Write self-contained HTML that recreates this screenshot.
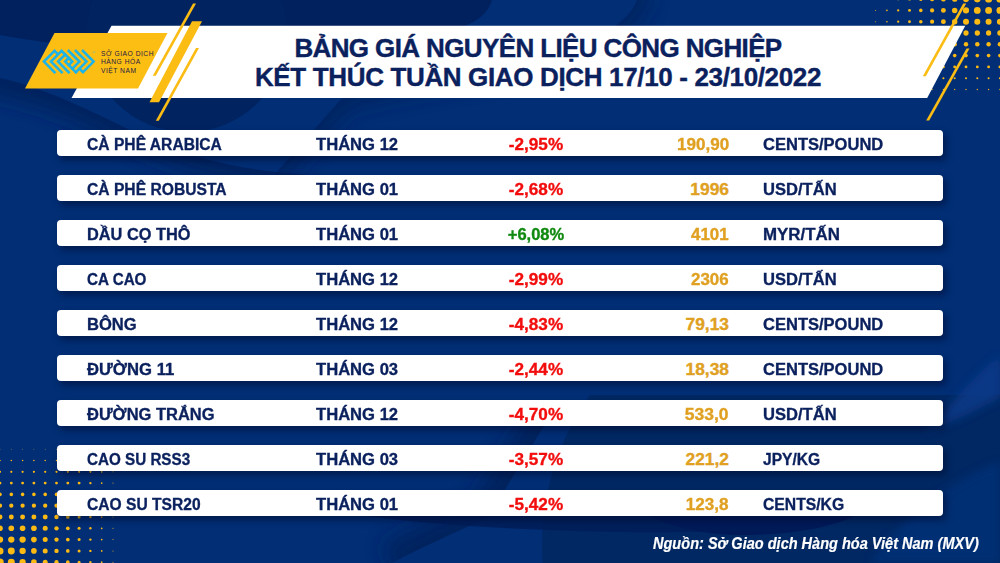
<!DOCTYPE html>
<html><head><meta charset="utf-8">
<style>
html,body{margin:0;padding:0;}
body{width:1000px;height:563px;overflow:hidden;position:relative;background:#012e75;font-family:"Liberation Sans",sans-serif;}
svg.bg{position:absolute;left:0;top:0;}
.row{position:absolute;left:57px;width:886px;height:26px;background:#fff;border-radius:4px;box-shadow:3px 4px 7px rgba(0,8,40,0.5);}
.row span{position:absolute;top:5px;font-weight:bold;font-size:17.4px;line-height:19px;white-space:nowrap;color:#0b215e;-webkit-text-stroke:0.35px currentColor;}
.c1{left:30px;transform-origin:0 50%;}
.c2{left:259px;transform-origin:0 50%;}
.c3{left:379px;width:200px;text-align:center;transform-origin:50% 50%;}
.c4{right:214px;text-align:right;color:#e0a021 !important;transform-origin:100% 50%;}
.c5{left:706px;transform-origin:0 50%;}
.r{color:#f20d0d !important;}
.g{color:#108a10 !important;}
.title{position:absolute;left:238px;width:600px;text-align:center;font-weight:bold;font-size:26px;line-height:30px;color:#0b215e;white-space:nowrap;-webkit-text-stroke:0.4px currentColor;}
.foot{position:absolute;left:653px;top:534.5px;font-style:italic;font-weight:bold;font-size:15.8px;line-height:17px;color:#fff;white-space:nowrap;transform:scaleX(0.92);transform-origin:0 50%;-webkit-text-stroke:0.2px #fff;}
.logo-t{position:absolute;left:101px;font-family:"Liberation Sans",sans-serif;font-size:6.7px;line-height:8px;letter-spacing:0.5px;color:#1c1844;white-space:nowrap;}
</style></head><body>
<svg class="bg" width="1000" height="563" viewBox="0 0 1000 563">
<defs>
<filter id="bl" x="-20%" y="-20%" width="140%" height="140%"><feGaussianBlur stdDeviation="10"/></filter><filter id="bl2" x="-20%" y="-20%" width="140%" height="140%"><feGaussianBlur stdDeviation="4"/></filter>
</defs>
<rect width="1000" height="563" fill="#012e75"/>
<clipPath id="belowB"><path d="M0,78 C40,86 90,110 150,140 C220,170 300,180 420,176 L1000,176 V563 H0 Z"/></clipPath>
<clipPath id="rightC"><path d="M637,0 C630,20 600,45 520,62 C440,78 370,88 342,98 L274,175 L252,200 L1000,200 V0 Z"/></clipPath>
<!-- top-left dark -->
<path d="M0,0 H492 C485,20 470,40 300,50 C200,55 80,50 0,35 Z" fill="#00215e"/>
<!-- wave B shadow -->
<g clip-path="url(#belowB)"><path d="M-20,78 C40,86 90,110 150,140 C220,170 300,180 420,176" fill="none" stroke="#00205c" stroke-width="26" filter="url(#bl)"/></g>
<!-- dark circle below title -->
<circle cx="187" cy="32" r="100" fill="#01235f"/>
<!-- wave C shadow (top right edge) -->
<g clip-path="url(#rightC)"><path d="M637,-20 L637,0 C630,20 600,45 520,62 C440,78 370,88 342,98 L274,175 L252,200" fill="none" stroke="#00205c" stroke-width="24" filter="url(#bl)" opacity="0.8"/></g>
<!-- bottom shapes -->
<clipPath id="lowc"><rect x="0" y="395" width="1000" height="200"/></clipPath>
<clipPath id="leftW"><path d="M0,400 H560 L488,517 C450,535 420,548 392,563 H0 Z"/></clipPath>
<g clip-path="url(#leftW)"><path d="M560,400 L488,517 C450,535 420,548 392,563" fill="none" stroke="#00205c" stroke-width="40" filter="url(#bl)" opacity="0.9"/></g>
<g clip-path="url(#lowc)"><circle cx="800" cy="545" r="258" fill="#01275f" opacity="0.8"/></g>
<path d="M300,505 C380,522 500,530 620,532 C740,534 830,525 875,505 Z" fill="#001d58" opacity="0.85"/>
<path d="M630,505 C660,525 700,535 740,535 C800,535 850,525 870,505 Z" fill="#001a58"/>
<!-- right edge waves -->
<path d="M1000,355 C975,375 955,400 925,432 C960,420 985,405 1000,398 Z" fill="#0a3a8a" opacity="0.8" filter="url(#bl2)"/>
<path d="M870,563 C900,520 950,480 1000,462 V563 Z" fill="#03307a" opacity="0.7" filter="url(#bl2)"/>
<g fill="#fbb913"><circle cx="999.9" cy="-0.9" r="3.50"/><circle cx="988.6" cy="-0.9" r="3.50"/><circle cx="977.3" cy="-0.9" r="3.38"/><circle cx="966.0" cy="-0.9" r="3.06"/><circle cx="954.7" cy="-0.9" r="2.74"/><circle cx="943.4" cy="-0.9" r="2.42"/><circle cx="932.1" cy="-0.9" r="2.10"/><circle cx="920.8" cy="-0.9" r="1.78"/><circle cx="909.5" cy="-0.9" r="1.46"/><circle cx="898.2" cy="-0.9" r="1.14"/><circle cx="886.9" cy="-0.9" r="0.82"/><circle cx="875.6" cy="-0.9" r="0.50"/><circle cx="999.9" cy="10.4" r="3.42"/><circle cx="988.6" cy="10.4" r="3.42"/><circle cx="977.3" cy="10.4" r="3.38"/><circle cx="966.0" cy="10.4" r="3.06"/><circle cx="954.7" cy="10.4" r="2.74"/><circle cx="943.4" cy="10.4" r="2.42"/><circle cx="932.1" cy="10.4" r="2.10"/><circle cx="920.8" cy="10.4" r="1.78"/><circle cx="909.5" cy="10.4" r="1.46"/><circle cx="898.2" cy="10.4" r="1.14"/><circle cx="886.9" cy="10.4" r="0.82"/><circle cx="875.6" cy="10.4" r="0.50"/><circle cx="999.9" cy="21.7" r="3.02"/><circle cx="988.6" cy="21.7" r="3.02"/><circle cx="977.3" cy="21.7" r="3.02"/><circle cx="966.0" cy="21.7" r="3.02"/><circle cx="954.7" cy="21.7" r="2.74"/><circle cx="943.4" cy="21.7" r="2.42"/><circle cx="932.1" cy="21.7" r="2.10"/><circle cx="920.8" cy="21.7" r="1.78"/><circle cx="909.5" cy="21.7" r="1.46"/><circle cx="898.2" cy="21.7" r="1.14"/><circle cx="886.9" cy="21.7" r="0.82"/><circle cx="875.6" cy="21.7" r="0.50"/><circle cx="999.9" cy="33.0" r="2.63"/><circle cx="988.6" cy="33.0" r="2.63"/><circle cx="977.3" cy="33.0" r="2.63"/><circle cx="966.0" cy="33.0" r="2.63"/><circle cx="954.7" cy="33.0" r="2.63"/><circle cx="943.4" cy="33.0" r="2.42"/><circle cx="932.1" cy="33.0" r="2.10"/><circle cx="920.8" cy="33.0" r="1.78"/><circle cx="909.5" cy="33.0" r="1.46"/><circle cx="898.2" cy="33.0" r="1.14"/><circle cx="886.9" cy="33.0" r="0.82"/><circle cx="875.6" cy="33.0" r="0.50"/><circle cx="999.9" cy="44.3" r="2.23"/><circle cx="988.6" cy="44.3" r="2.23"/><circle cx="977.3" cy="44.3" r="2.23"/><circle cx="966.0" cy="44.3" r="2.23"/><circle cx="954.7" cy="44.3" r="2.23"/><circle cx="943.4" cy="44.3" r="2.23"/><circle cx="932.1" cy="44.3" r="2.10"/><circle cx="920.8" cy="44.3" r="1.78"/><circle cx="909.5" cy="44.3" r="1.46"/><circle cx="898.2" cy="44.3" r="1.14"/><circle cx="886.9" cy="44.3" r="0.82"/><circle cx="875.6" cy="44.3" r="0.50"/><circle cx="999.9" cy="55.6" r="1.83"/><circle cx="988.6" cy="55.6" r="1.83"/><circle cx="977.3" cy="55.6" r="1.83"/><circle cx="966.0" cy="55.6" r="1.83"/><circle cx="954.7" cy="55.6" r="1.83"/><circle cx="943.4" cy="55.6" r="1.83"/><circle cx="932.1" cy="55.6" r="1.83"/><circle cx="920.8" cy="55.6" r="1.78"/><circle cx="909.5" cy="55.6" r="1.46"/><circle cx="898.2" cy="55.6" r="1.14"/><circle cx="886.9" cy="55.6" r="0.82"/><circle cx="875.6" cy="55.6" r="0.50"/><circle cx="999.9" cy="66.9" r="1.44"/><circle cx="988.6" cy="66.9" r="1.44"/><circle cx="977.3" cy="66.9" r="1.44"/><circle cx="966.0" cy="66.9" r="1.44"/><circle cx="954.7" cy="66.9" r="1.44"/><circle cx="943.4" cy="66.9" r="1.44"/><circle cx="932.1" cy="66.9" r="1.44"/><circle cx="920.8" cy="66.9" r="1.44"/><circle cx="909.5" cy="66.9" r="1.44"/><circle cx="898.2" cy="66.9" r="1.14"/><circle cx="886.9" cy="66.9" r="0.82"/><circle cx="875.6" cy="66.9" r="0.50"/><circle cx="999.9" cy="78.2" r="1.04"/><circle cx="988.6" cy="78.2" r="1.04"/><circle cx="977.3" cy="78.2" r="1.04"/><circle cx="966.0" cy="78.2" r="1.04"/><circle cx="954.7" cy="78.2" r="1.04"/><circle cx="943.4" cy="78.2" r="1.04"/><circle cx="932.1" cy="78.2" r="1.04"/><circle cx="920.8" cy="78.2" r="1.04"/><circle cx="909.5" cy="78.2" r="1.04"/><circle cx="898.2" cy="78.2" r="1.04"/><circle cx="886.9" cy="78.2" r="0.82"/><circle cx="875.6" cy="78.2" r="0.50"/><circle cx="999.9" cy="89.5" r="0.65"/><circle cx="988.6" cy="89.5" r="0.65"/><circle cx="977.3" cy="89.5" r="0.65"/><circle cx="966.0" cy="89.5" r="0.65"/><circle cx="954.7" cy="89.5" r="0.65"/><circle cx="943.4" cy="89.5" r="0.65"/><circle cx="932.1" cy="89.5" r="0.65"/><circle cx="920.8" cy="89.5" r="0.65"/><circle cx="909.5" cy="89.5" r="0.65"/><circle cx="898.2" cy="89.5" r="0.65"/><circle cx="886.9" cy="89.5" r="0.65"/><circle cx="875.6" cy="89.5" r="0.50"/></g>
<g fill="#fbb913"><circle cx="0.0" cy="596.1" r="3.75"/><circle cx="11.3" cy="596.1" r="3.49"/><circle cx="22.6" cy="596.1" r="3.16"/><circle cx="33.9" cy="596.1" r="2.83"/><circle cx="45.2" cy="596.1" r="2.50"/><circle cx="56.5" cy="596.1" r="2.17"/><circle cx="67.8" cy="596.1" r="1.84"/><circle cx="79.1" cy="596.1" r="1.51"/><circle cx="90.4" cy="596.1" r="1.18"/><circle cx="101.7" cy="596.1" r="0.85"/><circle cx="113.0" cy="596.1" r="0.52"/><circle cx="0.0" cy="584.8" r="3.75"/><circle cx="11.3" cy="584.8" r="3.49"/><circle cx="22.6" cy="584.8" r="3.16"/><circle cx="33.9" cy="584.8" r="2.83"/><circle cx="45.2" cy="584.8" r="2.50"/><circle cx="56.5" cy="584.8" r="2.17"/><circle cx="67.8" cy="584.8" r="1.84"/><circle cx="79.1" cy="584.8" r="1.51"/><circle cx="90.4" cy="584.8" r="1.18"/><circle cx="101.7" cy="584.8" r="0.85"/><circle cx="113.0" cy="584.8" r="0.52"/><circle cx="0.0" cy="573.5" r="3.75"/><circle cx="11.3" cy="573.5" r="3.49"/><circle cx="22.6" cy="573.5" r="3.16"/><circle cx="33.9" cy="573.5" r="2.83"/><circle cx="45.2" cy="573.5" r="2.50"/><circle cx="56.5" cy="573.5" r="2.17"/><circle cx="67.8" cy="573.5" r="1.84"/><circle cx="79.1" cy="573.5" r="1.51"/><circle cx="90.4" cy="573.5" r="1.18"/><circle cx="101.7" cy="573.5" r="0.85"/><circle cx="113.0" cy="573.5" r="0.52"/><circle cx="0.0" cy="562.2" r="3.75"/><circle cx="11.3" cy="562.2" r="3.49"/><circle cx="22.6" cy="562.2" r="3.16"/><circle cx="33.9" cy="562.2" r="2.83"/><circle cx="45.2" cy="562.2" r="2.50"/><circle cx="56.5" cy="562.2" r="2.17"/><circle cx="67.8" cy="562.2" r="1.84"/><circle cx="79.1" cy="562.2" r="1.51"/><circle cx="90.4" cy="562.2" r="1.18"/><circle cx="101.7" cy="562.2" r="0.85"/><circle cx="113.0" cy="562.2" r="0.52"/><circle cx="0.0" cy="550.9" r="3.50"/><circle cx="11.3" cy="550.9" r="3.49"/><circle cx="22.6" cy="550.9" r="3.16"/><circle cx="33.9" cy="550.9" r="2.83"/><circle cx="45.2" cy="550.9" r="2.50"/><circle cx="56.5" cy="550.9" r="2.17"/><circle cx="67.8" cy="550.9" r="1.84"/><circle cx="79.1" cy="550.9" r="1.51"/><circle cx="90.4" cy="550.9" r="1.18"/><circle cx="101.7" cy="550.9" r="0.85"/><circle cx="113.0" cy="550.9" r="0.52"/><circle cx="0.0" cy="539.6" r="3.16"/><circle cx="11.3" cy="539.6" r="3.16"/><circle cx="22.6" cy="539.6" r="3.16"/><circle cx="33.9" cy="539.6" r="2.83"/><circle cx="45.2" cy="539.6" r="2.50"/><circle cx="56.5" cy="539.6" r="2.17"/><circle cx="67.8" cy="539.6" r="1.84"/><circle cx="79.1" cy="539.6" r="1.51"/><circle cx="90.4" cy="539.6" r="1.18"/><circle cx="101.7" cy="539.6" r="0.85"/><circle cx="113.0" cy="539.6" r="0.52"/><circle cx="0.0" cy="528.3" r="2.82"/><circle cx="11.3" cy="528.3" r="2.82"/><circle cx="22.6" cy="528.3" r="2.82"/><circle cx="33.9" cy="528.3" r="2.82"/><circle cx="45.2" cy="528.3" r="2.50"/><circle cx="56.5" cy="528.3" r="2.17"/><circle cx="67.8" cy="528.3" r="1.84"/><circle cx="79.1" cy="528.3" r="1.51"/><circle cx="90.4" cy="528.3" r="1.18"/><circle cx="101.7" cy="528.3" r="0.85"/><circle cx="113.0" cy="528.3" r="0.52"/><circle cx="0.0" cy="517.0" r="2.47"/><circle cx="11.3" cy="517.0" r="2.47"/><circle cx="22.6" cy="517.0" r="2.47"/><circle cx="33.9" cy="517.0" r="2.47"/><circle cx="45.2" cy="517.0" r="2.47"/><circle cx="56.5" cy="517.0" r="2.17"/><circle cx="67.8" cy="517.0" r="1.84"/><circle cx="79.1" cy="517.0" r="1.51"/><circle cx="90.4" cy="517.0" r="1.18"/><circle cx="101.7" cy="517.0" r="0.85"/><circle cx="113.0" cy="517.0" r="0.52"/><circle cx="0.0" cy="505.7" r="2.13"/><circle cx="11.3" cy="505.7" r="2.13"/><circle cx="22.6" cy="505.7" r="2.13"/><circle cx="33.9" cy="505.7" r="2.13"/><circle cx="45.2" cy="505.7" r="2.13"/><circle cx="56.5" cy="505.7" r="2.13"/><circle cx="67.8" cy="505.7" r="1.84"/><circle cx="79.1" cy="505.7" r="1.51"/><circle cx="90.4" cy="505.7" r="1.18"/><circle cx="101.7" cy="505.7" r="0.85"/><circle cx="113.0" cy="505.7" r="0.52"/><circle cx="0.0" cy="494.4" r="1.78"/><circle cx="11.3" cy="494.4" r="1.78"/><circle cx="22.6" cy="494.4" r="1.78"/><circle cx="33.9" cy="494.4" r="1.78"/><circle cx="45.2" cy="494.4" r="1.78"/><circle cx="56.5" cy="494.4" r="1.78"/><circle cx="67.8" cy="494.4" r="1.78"/><circle cx="79.1" cy="494.4" r="1.51"/><circle cx="90.4" cy="494.4" r="1.18"/><circle cx="101.7" cy="494.4" r="0.85"/><circle cx="113.0" cy="494.4" r="0.52"/><circle cx="0.0" cy="483.1" r="1.44"/><circle cx="11.3" cy="483.1" r="1.44"/><circle cx="22.6" cy="483.1" r="1.44"/><circle cx="33.9" cy="483.1" r="1.44"/><circle cx="45.2" cy="483.1" r="1.44"/><circle cx="56.5" cy="483.1" r="1.44"/><circle cx="67.8" cy="483.1" r="1.44"/><circle cx="79.1" cy="483.1" r="1.44"/><circle cx="90.4" cy="483.1" r="1.18"/><circle cx="101.7" cy="483.1" r="0.85"/><circle cx="113.0" cy="483.1" r="0.52"/><circle cx="0.0" cy="471.8" r="1.09"/><circle cx="11.3" cy="471.8" r="1.09"/><circle cx="22.6" cy="471.8" r="1.09"/><circle cx="33.9" cy="471.8" r="1.09"/><circle cx="45.2" cy="471.8" r="1.09"/><circle cx="56.5" cy="471.8" r="1.09"/><circle cx="67.8" cy="471.8" r="1.09"/><circle cx="79.1" cy="471.8" r="1.09"/><circle cx="90.4" cy="471.8" r="1.09"/><circle cx="101.7" cy="471.8" r="0.85"/><circle cx="113.0" cy="471.8" r="0.52"/><circle cx="0.0" cy="460.5" r="0.75"/><circle cx="11.3" cy="460.5" r="0.75"/><circle cx="22.6" cy="460.5" r="0.75"/><circle cx="33.9" cy="460.5" r="0.75"/><circle cx="45.2" cy="460.5" r="0.75"/><circle cx="56.5" cy="460.5" r="0.75"/><circle cx="67.8" cy="460.5" r="0.75"/><circle cx="79.1" cy="460.5" r="0.75"/><circle cx="90.4" cy="460.5" r="0.75"/><circle cx="101.7" cy="460.5" r="0.75"/><circle cx="113.0" cy="460.5" r="0.52"/><circle cx="0.0" cy="449.2" r="0.40"/><circle cx="11.3" cy="449.2" r="0.40"/><circle cx="22.6" cy="449.2" r="0.40"/><circle cx="33.9" cy="449.2" r="0.40"/><circle cx="45.2" cy="449.2" r="0.40"/><circle cx="56.5" cy="449.2" r="0.40"/><circle cx="67.8" cy="449.2" r="0.40"/><circle cx="79.1" cy="449.2" r="0.40"/><circle cx="90.4" cy="449.2" r="0.40"/><circle cx="101.7" cy="449.2" r="0.40"/><circle cx="113.0" cy="449.2" r="0.40"/></g>
<polygon points="111.5,25.8 965.3,25.8 927.2,98 71.5,98" fill="#fff"/>
<polygon points="54.5,33 167.5,33 138,88.5 25,88.5" fill="#fdbe13"/>
<polygon points="193,3.5 196,3.5 155.8,75.8 152.8,75.8" fill="#fbbc14"/>
<polygon points="192,21.3 202,21.3 159,102.2 149.5,102.2" fill="#fbbc14"/>
<polygon points="196,48 199,48 158.8,120.7 155.8,120.7" fill="#fbbc14"/>
<polygon points="963.2,3.5 966.2,3.5 925.8,76.2 922.8,76.2" fill="#fbbc14"/>
<polygon points="966.5,48.5 969.5,48.5 929.2,120.5 926.2,120.5" fill="#fbbc14"/>
<g fill="none" stroke="#1eb3e8" stroke-width="2.6" stroke-linejoin="miter" stroke-linecap="square"><polyline points="54.55,72.25 43.90,61.60 54.55,50.95 58.10,54.50 61.65,50.95 51.00,61.60 61.65,72.25"/><polyline points="61.65,50.95 72.30,61.60 68.75,65.15"/><polyline points="68.75,58.05 65.20,61.60 75.85,72.25"/><polyline points="68.75,72.25 58.10,61.60 65.20,54.50"/><polyline points="68.75,50.95 79.40,61.60 72.30,68.70"/><polyline points="75.85,50.95 86.50,61.60 75.85,72.25"/><polyline points="82.95,50.95 93.60,61.60 82.95,72.25 79.40,68.70"/></g>
<rect x="92.5" y="51.5" width="3" height="1.2" fill="#7ab8a0" opacity="0.6"/>
</svg>
<div class="logo-t" style="top:50.3px">SỞ GIAO DỊCH</div>
<div class="logo-t" style="top:58.2px">HÀNG HÓA</div>
<div class="logo-t" style="top:66.9px">VIỆT NAM</div>
<div class="title" style="top:33px;letter-spacing:-0.62px">BẢNG GIÁ NGUYÊN LIỆU CÔNG NGHIỆP</div>
<div class="title" style="top:62px;letter-spacing:-0.35px">KẾT THÚC TUẦN GIAO DỊCH 17/10 - 23/10/2022</div>
<div class="row" style="top:130px"><span class="c1" style="transform:scaleX(0.8987)">CÀ PHÊ ARABICA</span><span class="c2" style="transform:scaleX(0.9547)">THÁNG 12</span><span class="c3 r" style="transform:scaleX(0.9861)">-2,95%</span><span class="c4" style="transform:scaleX(0.9808)">190,90</span><span class="c5" style="transform:scaleX(0.9500)">CENTS/POUND</span></div>
<div class="row" style="top:175px"><span class="c1" style="transform:scaleX(0.8994)">CÀ PHÊ ROBUSTA</span><span class="c2" style="transform:scaleX(0.9547)">THÁNG 01</span><span class="c3 r" style="transform:scaleX(0.9861)">-2,68%</span><span class="c4">1996</span><span class="c5" style="transform:scaleX(0.9526)">USD/TẤN</span></div>
<div class="row" style="top:220px"><span class="c1" style="transform:scaleX(0.9404)">DẦU CỌ THÔ</span><span class="c2" style="transform:scaleX(0.9547)">THÁNG 01</span><span class="c3 g" style="transform:scaleX(0.9500)">+6,08%</span><span class="c4" style="transform:scaleX(0.9737)">4101</span><span class="c5" style="transform:scaleX(0.9705)">MYR/TẤN</span></div>
<div class="row" style="top:265px"><span class="c1" style="transform:scaleX(0.8750)">CA CAO</span><span class="c2" style="transform:scaleX(0.9547)">THÁNG 12</span><span class="c3 r" style="transform:scaleX(0.9861)">-2,99%</span><span class="c4" style="transform:scaleX(0.9737)">2306</span><span class="c5" style="transform:scaleX(0.9526)">USD/TẤN</span></div>
<div class="row" style="top:310px"><span class="c1" style="transform:scaleX(0.9529)">BÔNG</span><span class="c2" style="transform:scaleX(0.9547)">THÁNG 12</span><span class="c3 r" style="transform:scaleX(0.9861)">-4,83%</span><span class="c4">79,13</span><span class="c5" style="transform:scaleX(0.9500)">CENTS/POUND</span></div>
<div class="row" style="top:355px"><span class="c1" style="transform:scaleX(0.9582)">ĐƯỜNG 11</span><span class="c2" style="transform:scaleX(0.9547)">THÁNG 03</span><span class="c3 r" style="transform:scaleX(0.9861)">-2,44%</span><span class="c4">18,38</span><span class="c5" style="transform:scaleX(0.9500)">CENTS/POUND</span></div>
<div class="row" style="top:400px"><span class="c1" style="transform:scaleX(0.9478)">ĐƯỜNG TRẮNG</span><span class="c2" style="transform:scaleX(0.9547)">THÁNG 12</span><span class="c3 r" style="transform:scaleX(0.9861)">-4,70%</span><span class="c4" style="transform:scaleX(1.0060)">533,0</span><span class="c5" style="transform:scaleX(0.9526)">USD/TẤN</span></div>
<div class="row" style="top:445px"><span class="c1" style="transform:scaleX(0.8746)">CAO SU RSS3</span><span class="c2" style="transform:scaleX(0.9547)">THÁNG 03</span><span class="c3 r" style="transform:scaleX(0.9861)">-3,57%</span><span class="c4">221,2</span><span class="c5" style="transform:scaleX(0.8968)">JPY/KG</span></div>
<div class="row" style="top:490px"><span class="c1" style="transform:scaleX(0.8976)">CAO SU TSR20</span><span class="c2" style="transform:scaleX(0.9547)">THÁNG 01</span><span class="c3 r" style="transform:scaleX(0.9861)">-5,42%</span><span class="c4" style="transform:scaleX(0.9821)">123,8</span><span class="c5" style="transform:scaleX(0.9034)">CENTS/KG</span></div>

<div class="foot">Nguồn: Sở Giao dịch Hàng hóa Việt Nam (MXV)</div>
</body></html>
